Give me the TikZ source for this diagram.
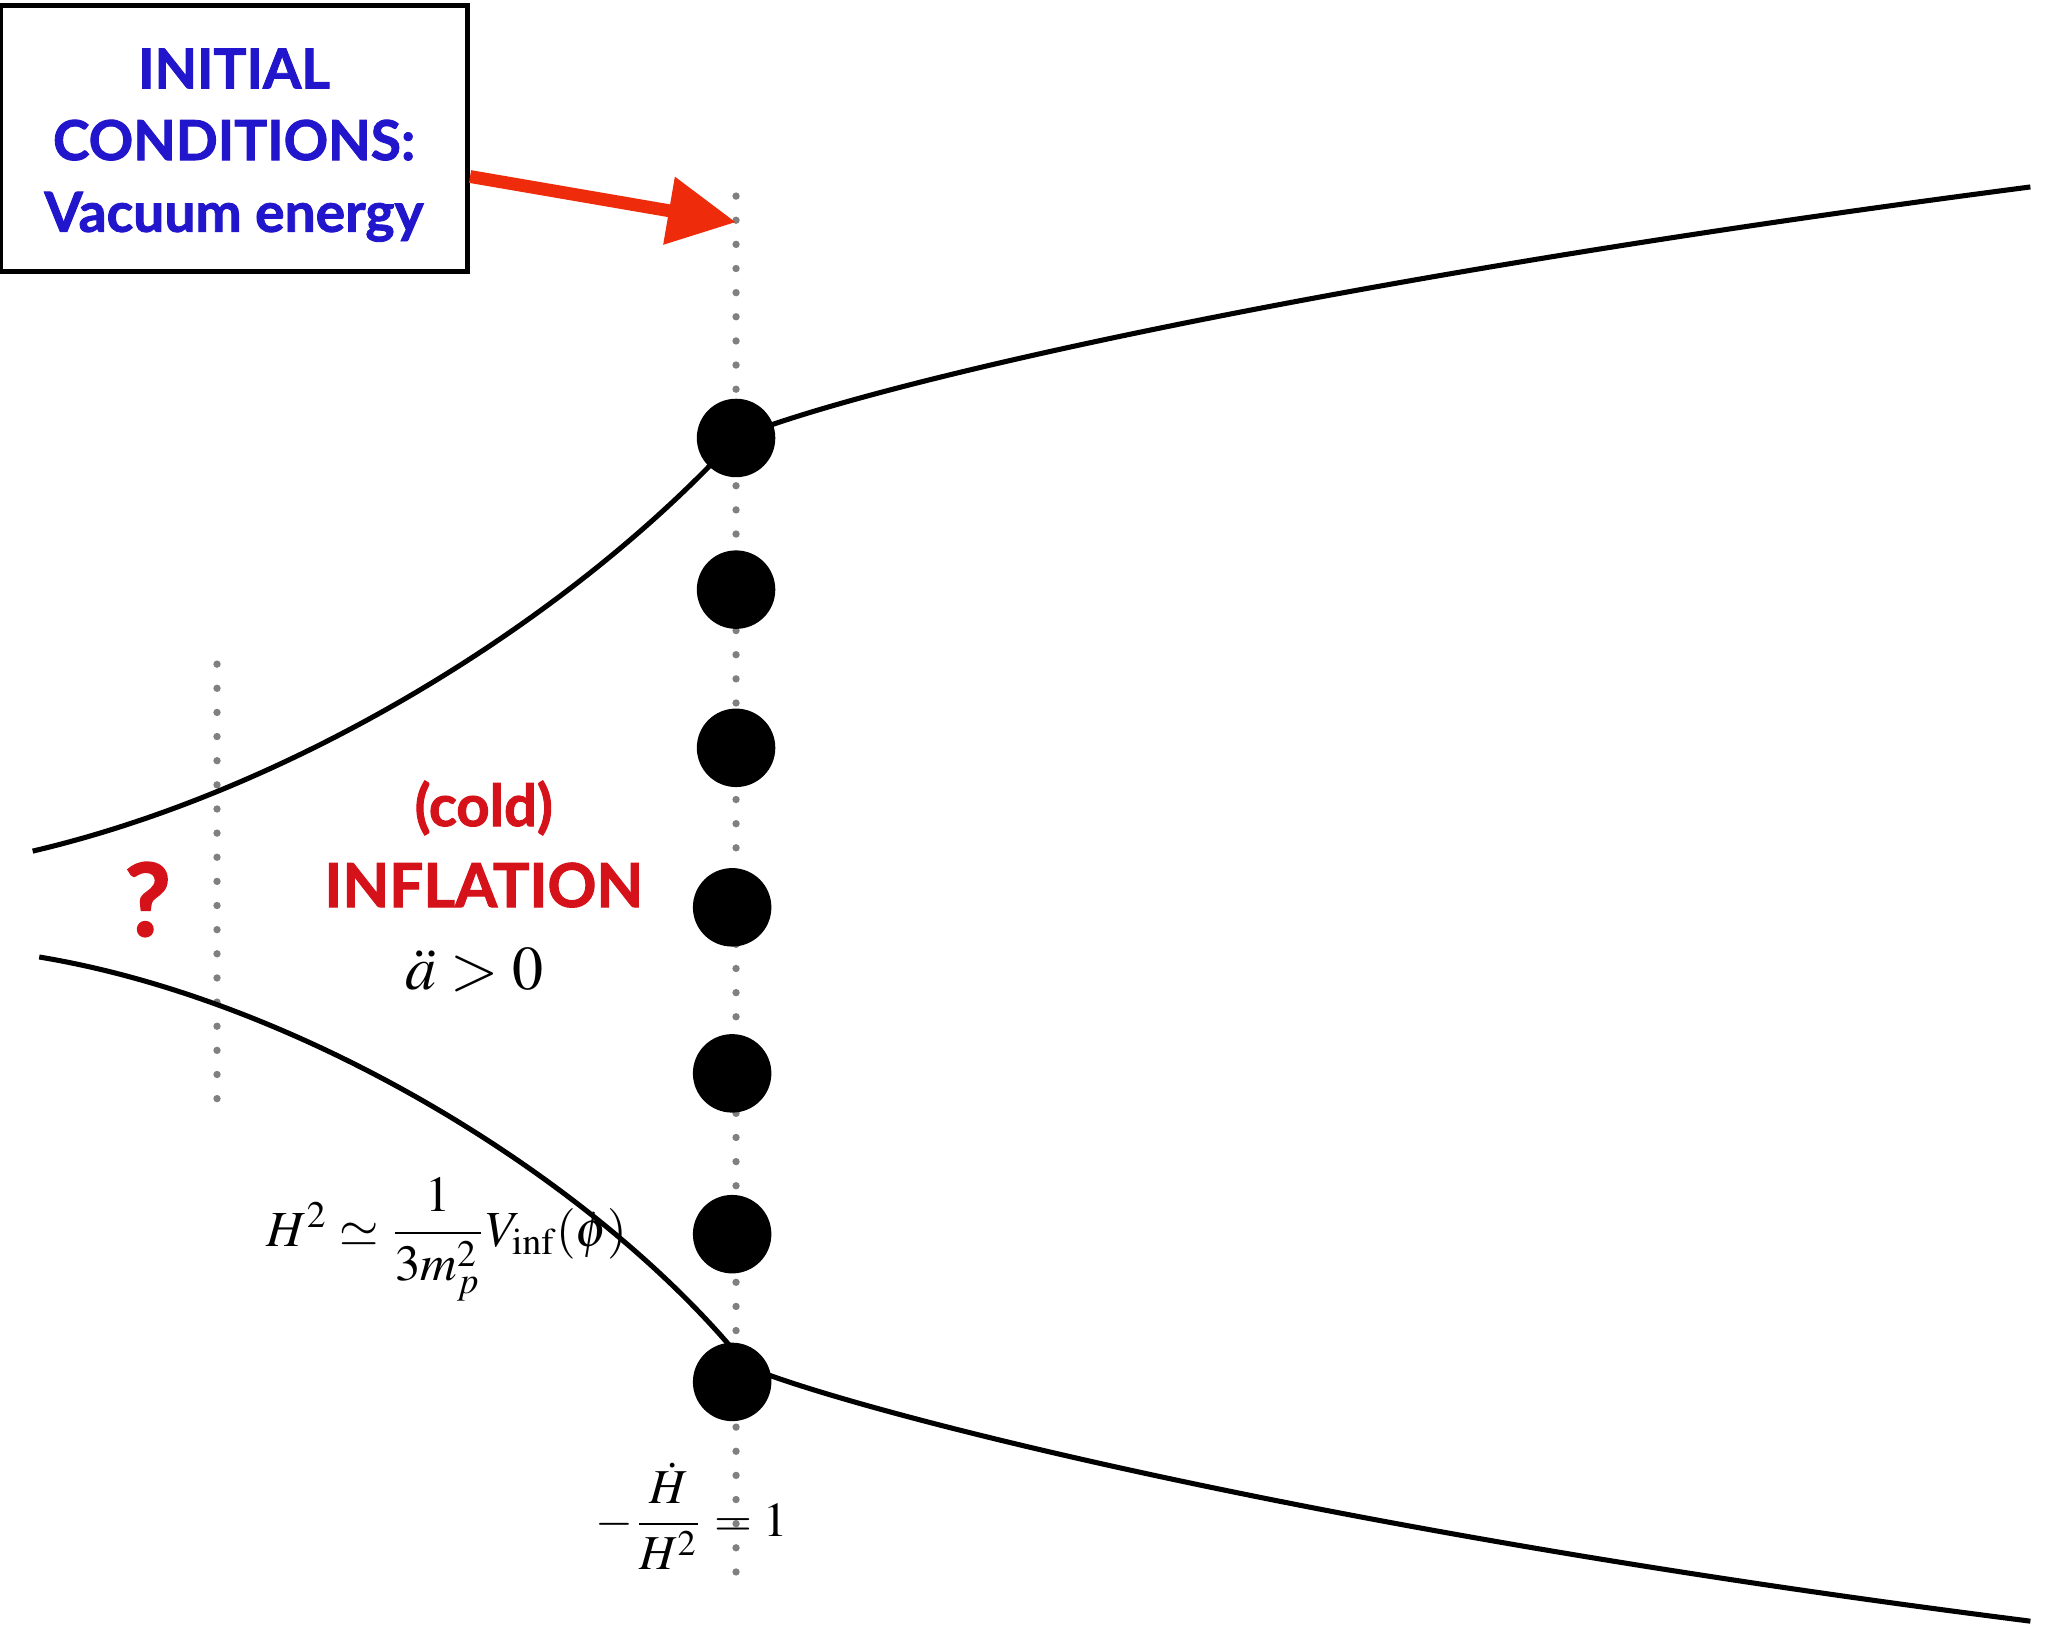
\documentclass[tikz,border=0pt]{standalone}
\usepackage{amsmath}
\usepackage{mathptmx}
\usepackage{fontspec}
\setmainfont{Liberation Serif}
\setsansfont{Lato}[BoldFeatures={FakeBold=1.6}]
\usetikzlibrary{arrows.meta}
\definecolor{figBlue}{HTML}{2116CC}
\definecolor{figRed}{HTML}{D5121A}
\definecolor{figArrow}{HTML}{EE2C0B}

\begin{document}
\begin{tikzpicture}[x=0.01cm,y=-0.01cm,
  ball/.style={circle,fill=black,inner sep=0pt,minimum size=0.6cm},
  dots/.style={gray,line width=1.6pt,line cap=round,dash pattern=on 0pt off 5.25pt},
  curve/.style={line width=1.1pt},
  lbl/.style={font=\sffamily\bfseries\fontsize{#1}{15.6}\selectfont}]
\useasboundingbox (0,0) rectangle (1568,1246);
% Linies de temps puntejades
\coordinate (ltop) at (563,150);
\coordinate (lbot) at (563,1212);
\coordinate (qtop) at (166,508);
\coordinate (qbot) at (166,845);
\draw[dots] (ltop) -- (lbot);
\draw[dots] (qtop) -- (qbot);
% Posicions dels punts
\foreach \i/\x/\y in {1/563/335,2/563/451,3/563/572,4/560/694,5/560/821,6/560/944,7/560/1057}
  \coordinate (p\i) at (\x,\y);
% Factor d'escala
\coordinate (ul) at (25,651);
\coordinate (ur) at (1553,143);
\coordinate (ll) at (30,732);
\coordinate (lend) at (563,1035);
\coordinate (lstart) at (578,1048);
\coordinate (lr) at (1553,1240);
\draw[curve] (ul) .. controls (230,603) and (440,470) .. (p1);
\draw[curve] (p1) .. controls (660,295) and (1000,215) .. (ur);
\draw[curve] (ll) .. controls (230,765) and (450,900) .. (lend);
\draw[curve] (lstart) .. controls (660,1080) and (1000,1170) .. (lr);
\foreach \i in {1,...,7}
  \node[ball] (b\i) at (p\i) {};
% Condicions inicials
\node[draw,line width=1.1pt,minimum width=3.57cm,minimum height=2.03cm] (box) at (179,106) {};
\node[align=center,text=figBlue,lbl=12] (boxtxt) at (179,111)
  {INITIAL\\CONDITIONS:\\Vacuum energy};
\coordinate (tip) at (563,170);
\draw[-{Triangle[length=5.2mm,width=5mm]},figArrow,line width=2.8pt]
  ([yshift=-0.29cm]box.east) -- (tip);
% Etiquetes
\node[text=figRed,lbl=22] (ques) at (113,688) {?};
\node[text=figRed,lbl=12.6] (cold) at (370,618) {(cold)};
\node[text=figRed,lbl=13.2] (infl) at (370,677) {INFLATION};
\node[font=\fontsize{13.5}{16}\selectfont] (acc) at (363,742) {$\ddot a > 0$};
\node[font=\fontsize{11}{13}\selectfont] (fried) at (342,948)
  {$H^2 \simeq \dfrac{1}{3m_p^2}V_{\mathrm{inf}}(\phi)$};
\node[font=\fontsize{10.6}{13}\selectfont] (eps) at (529,1160)
  {$-\dfrac{\dot H}{H^2} = 1$};
\end{tikzpicture}
\end{document}
